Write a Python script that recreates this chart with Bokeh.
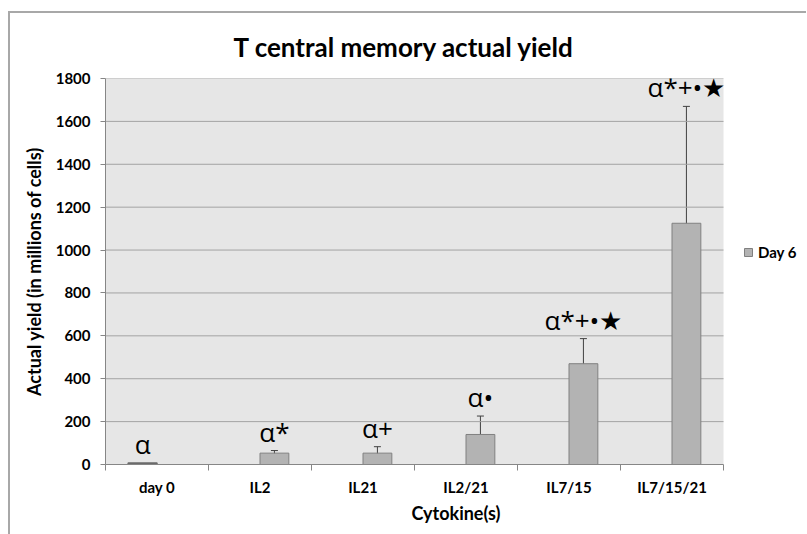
from bokeh.plotting import figure
from bokeh.models import (Range1d, FixedTicker, ColumnDataSource, Whisker, TeeHead,
                          Legend, LegendItem, BoxAnnotation)
from bokeh.core.properties import value
from bokeh.embed import file_html
from bokeh.resources import INLINE

# ---- data ----
categories = ["day 0", "IL2", "IL21", "IL2/21", "IL7/15", "IL7/15/21"]
day0_categories = ["day 0"]
day0_values = [7]
day6_categories = ["IL2", "IL21", "IL2/21", "IL7/15", "IL7/15/21"]
day6_values = [53, 53, 140, 470, 1125]
day6_errors = [12, 30, 86, 117, 545]
significance = ["α", "α*", "α+", "α•", "α*+•★", "α*+•★"]
y_ticks = [0, 200, 400, 600, 800, 1000, 1200, 1400, 1600, 1800]

# ---- layout helpers ----
N = len(categories)
BAR_W = 0.28
PLOT_W = 618          # px width of the grey plotting area
EXTRA_W = 83          # px to the right of it (legend space)
idx = {c: i for i, c in enumerate(categories)}
d0_x = [idx[c] + 0.5 - BAR_W / 2 for c in day0_categories]
d6_x = [idx[c] + 0.5 + BAR_W / 2 for c in day6_categories]

src0 = ColumnDataSource(dict(x=d0_x, top=day0_values))
src6 = ColumnDataSource(dict(
    x=d6_x, top=day6_values,
    upper=[v + e for v, e in zip(day6_values, day6_errors)],
    lower=[v - e for v, e in zip(day6_values, day6_errors)],
))
ann_x = d0_x + d6_x
ann_y = day0_values + [v + e for v, e in zip(day6_values, day6_errors)]
src_ann = ColumnDataSource(dict(x=ann_x, y=ann_y, t=significance))
grid_src = ColumnDataSource(dict(y=y_ticks[1:]))

FONT = "Lato"
GRAY_AX = "#868686"
x_end = N * (PLOT_W + EXTRA_W) / PLOT_W

p = figure(frame_width=PLOT_W + EXTRA_W, frame_height=386, output_backend="svg",
           toolbar_location=None,
           x_range=Range1d(0, x_end), y_range=Range1d(0, 1800),
           min_border_left=95, min_border_right=0, min_border_top=63,
           min_border_bottom=70, tools="")
p.styles = {"border-top": "2px solid #a8a8a8", "border-left": "2px solid #a8a8a8",
            "margin-top": "11px", "margin-left": "8px"}

p.background_fill_color = "white"
p.border_fill_color = "white"
p.outline_line_color = None

# grey plotting area
p.add_layout(BoxAnnotation(left=0, right=N, bottom=0, top=1800,
                           fill_color="#e6e6e6", fill_alpha=1,
                           line_color=None, level="underlay"))

p.title.text = "T central memory actual yield"
p.title.text_font = FONT
p.title.text_font_size = "26px"
p.title.text_font_style = "bold"
p.title.text_color = "black"
p.title.align = "left"
p.title.offset = 128
p.title.standoff = 31

# grid (drawn only across the grey area)
p.xgrid.grid_line_color = None
p.ygrid.grid_line_color = None
p.segment(x0=0, x1=N, y0="y", y1="y", source=grid_src,
          line_color="#a3a3a3", line_width=1)

# y axis
p.yaxis.ticker = FixedTicker(ticks=y_ticks)
p.yaxis.axis_label = "Actual yield (in millions of cells)"
p.yaxis.axis_label_text_font = FONT
p.yaxis.axis_label_text_font_size = "18px"
p.yaxis.axis_label_text_font_style = "bold"
p.yaxis.axis_label_text_color = "black"
p.yaxis.axis_label_standoff = 8
p.yaxis.major_label_text_font = FONT
p.yaxis.major_label_text_font_size = "15px"
p.yaxis.major_label_text_font_style = "bold"
p.yaxis.major_label_text_color = "black"
p.yaxis.major_label_standoff = 10
p.yaxis.axis_line_color = GRAY_AX
p.yaxis.major_tick_line_color = GRAY_AX
p.yaxis.major_tick_out = 5
p.yaxis.major_tick_in = 0
p.yaxis.minor_tick_line_color = None

# x axis
centers = [i + 0.5 for i in range(N)]
bounds = [float(i) for i in range(N + 1)]
p.xaxis.ticker = FixedTicker(ticks=centers, minor_ticks=bounds)
p.xaxis.bounds = (0, N)
p.xaxis.major_label_overrides = {c: lab for c, lab in zip(centers, categories)}
p.xaxis.axis_label = "Cytokine(s)"
p.xaxis.axis_label_text_font = FONT
p.xaxis.axis_label_text_font_size = "18px"
p.xaxis.axis_label_text_font_style = "bold"
p.xaxis.axis_label_text_color = "black"
p.xaxis.axis_label_standoff = 3
p.xaxis.major_label_text_font = FONT
p.xaxis.major_label_text_font_size = "15px"
p.xaxis.major_label_text_font_style = "bold"
p.xaxis.major_label_text_color = "black"
p.xaxis.major_label_standoff = 7
p.xaxis.axis_line_color = GRAY_AX
p.xaxis.major_tick_line_color = None
p.xaxis.major_tick_out = 0
p.xaxis.major_tick_in = 0
p.xaxis.minor_tick_line_color = GRAY_AX
p.xaxis.minor_tick_out = 6
p.xaxis.minor_tick_in = 0

# bars
p.vbar(x="x", top="top", width=BAR_W, bottom=0, source=src0,
       fill_color="#b3b3b3", line_color="#6a6a6a", line_width=1.5)
r6 = p.vbar(x="x", top="top", width=BAR_W, bottom=0, source=src6,
            fill_color="#b3b3b3", line_color="#808080", line_width=1)

# error bars
w = Whisker(source=src6, base="x", upper="upper", lower="lower",
            line_color="#404040", line_width=1,
            upper_head=TeeHead(size=7, line_color="#404040", line_width=1),
            lower_head=TeeHead(size=7, line_color="#404040", line_width=1))
p.add_layout(w)

# significance annotations
p.text(x="x", y="y", text="t", source=src_ann, text_align="center",
       text_baseline="alphabetic", y_offset=-19, text_font=value("Open Sans"),
       text_font_size="26px", text_color="black")

# legend, right of the grey area
legend = Legend(items=[LegendItem(label="Day 6", renderers=[r6])],
                location=(PLOT_W + 20, 203), border_line_color=None,
                background_fill_alpha=0, glyph_width=10, glyph_height=10,
                label_standoff=5, label_text_font=FONT,
                label_text_font_size="15px", label_text_font_style="bold",
                label_text_color="black", margin=0, padding=5)
p.add_layout(legend)

open("out.html", "w").write(file_html(p, INLINE))
